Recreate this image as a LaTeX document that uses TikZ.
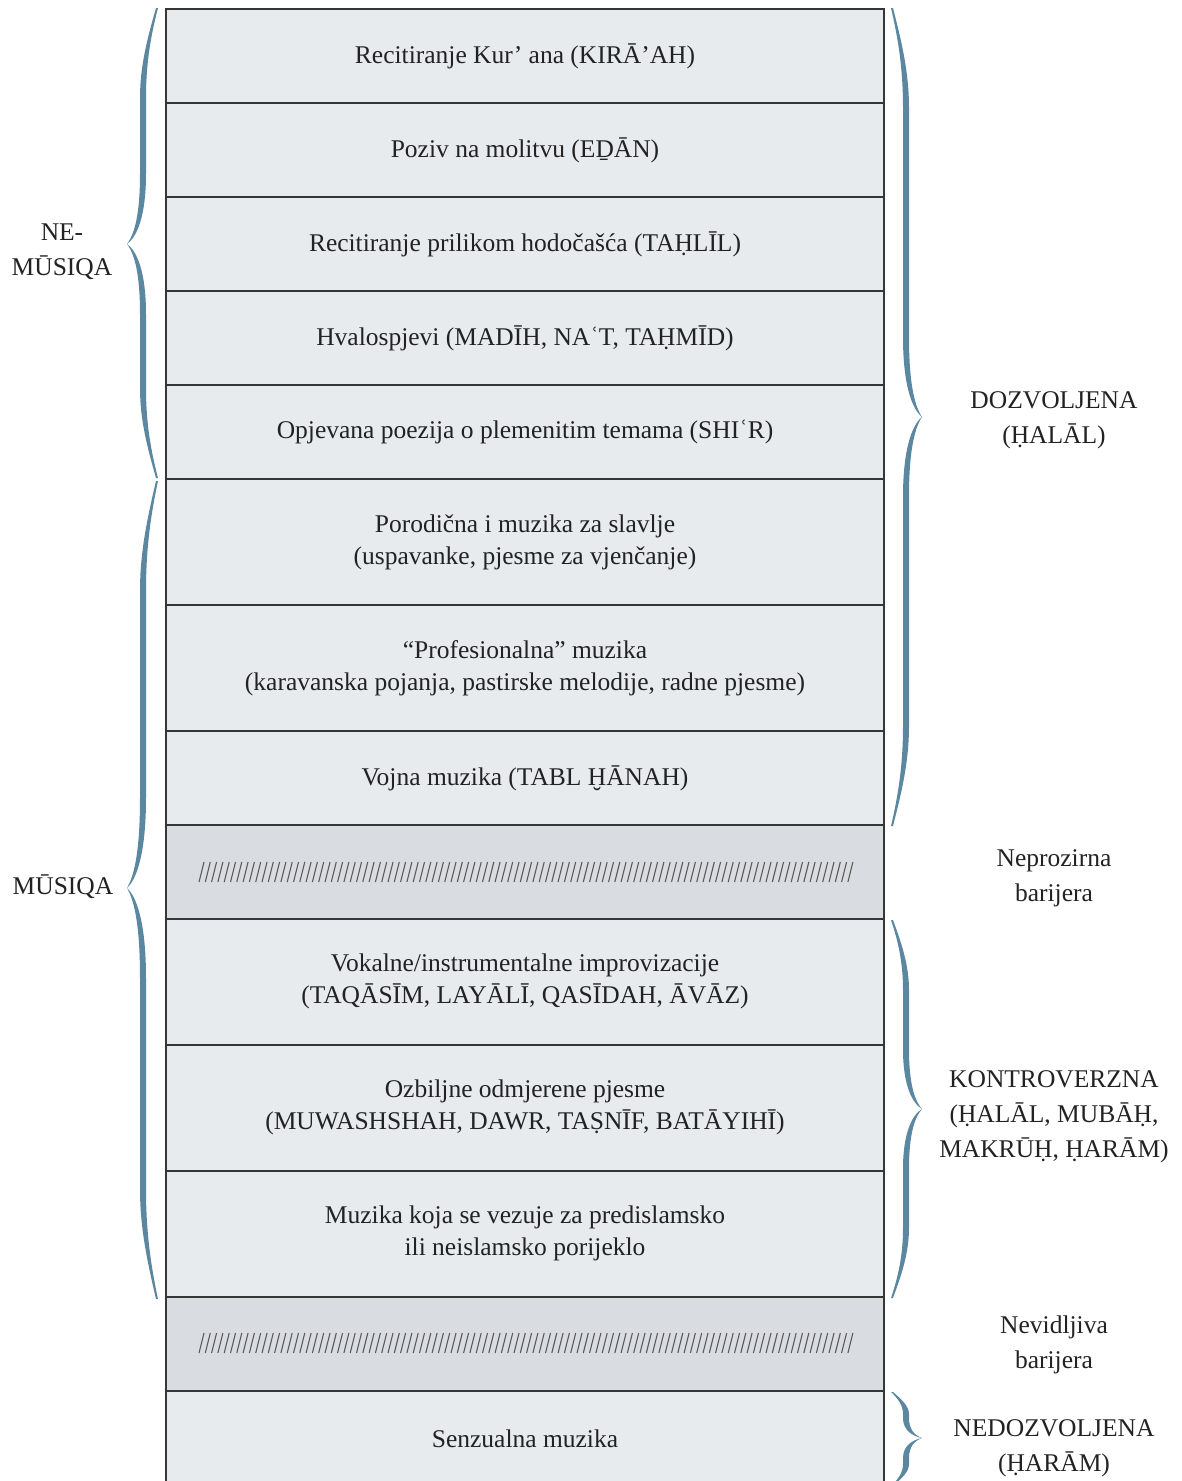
\documentclass[tikz,border=0pt]{standalone}
\usepackage{fontspec}
\setmainfont{Liberation Serif}
\definecolor{rowfill}{HTML}{E8EBEE}
\definecolor{hatchfill}{HTML}{D9DDE2}
\definecolor{edgecol}{HTML}{363636}
\definecolor{bracecol}{HTML}{5B88A0}
\definecolor{txtcol}{HTML}{222222}
\definecolor{slashcol}{HTML}{5A5A5A}
\tikzset{
  rowbox/.style={draw=edgecol, line width=1.7pt, fill=rowfill, minimum width=718pt,
    anchor=north, inner sep=0pt, align=center, text=txtcol,
    font=\fontsize{25.5}{32}\selectfont},
  hatchbox/.style={rowbox, fill=hatchfill},
  sidelabel/.style={align=center, text=txtcol, inner sep=0pt,
    font=\fontsize{25.5}{35}\selectfont},
  slashline/.style={draw=slashcol, line width=1.1pt}
}
% half brace: #1 y of end, #2 y of tip, #3 sign (+1 tip below end, -1 tip above), #4 end-curve length, #5 tip-curve length
\newcommand\halfbr[5]{%
\fill[bracecol] (156,#1) .. controls (147,{#1+(#3)*0.35*#4}) and (140,{#1+(#3)*0.65*#4}) .. (140,{#1+(#3)*#4})
 -- (140,{#2-(#3)*#5})
 .. controls (140,{#2-(#3)*0.45*#5}) and (135,{#2-(#3)*0.15*#5}) .. (127,#2)
 .. controls (137,{#2-(#3)*0.1*#5}) and (146,{#2-(#3)*0.4*#5}) .. (146,{#2-(#3)*#5})
 -- (146,{#1+(#3)*#4})
 .. controls (146,{#1+(#3)*0.6*#4}) and (151,{#1+(#3)*0.3*#4}) .. (158,#1) -- cycle;}
\newcommand\fullbr[5]{\halfbr{#1}{#2}{1}{#4}{#5}\halfbr{#3}{#2}{-1}{#4}{#5}}
\begin{document}
\begin{tikzpicture}[x=1pt,y=-1pt]
\useasboundingbox (0,0) rectangle (1182,1481);
\clip (0,0) rectangle (1182,1481);
% rows
\node[rowbox, minimum height=94pt] (r1) at (525,8) {Recitiranje Kur’ ana (KIRĀ’AH)};
\node[rowbox, minimum height=94pt] (r2) at (525,102) {Poziv na molitvu (EḎĀN)};
\node[rowbox, minimum height=94pt] (r3) at (525,196) {Recitiranje prilikom hodočašća (TAḤLĪL)};
\node[rowbox, minimum height=94pt] (r4) at (525,290) {Hvalospjevi (MADĪH, NAʿT, TAḤMĪD)};
\node[rowbox, minimum height=94pt] (r5) at (525,384) {Opjevana poezija o plemenitim temama (SHIʿR)};
\node[rowbox, minimum height=126pt] (r6) at (525,478) {Porodična i muzika za slavlje\\(uspavanke, pjesme za vjenčanje)};
\node[rowbox, minimum height=126pt] (r7) at (525,604) {“Profesionalna” muzika\\(karavanska pojanja, pastirske melodije, radne pjesme)};
\node[rowbox, minimum height=94pt] (r8) at (525,730) {Vojna muzika (TABL ḪĀNAH)};
\node[hatchbox, minimum height=94pt] (r9) at (525,824) {};
\node[rowbox, minimum height=126pt] (r10) at (525,918) {Vokalne/instrumentalne improvizacije\\(TAQĀSĪM, LAYĀLĪ, QASĪDAH, ĀVĀZ)};
\node[rowbox, minimum height=126pt] (r11) at (525,1044) {Ozbiljne odmjerene pjesme\\(MUWASHSHAH, DAWR, TAṢNĪF, BATĀYIHĪ)};
\node[rowbox, minimum height=126pt] (r12) at (525,1170) {Muzika koja se vezuje za predislamsko\\ili neislamsko porijeklo};
\node[hatchbox, minimum height=94pt] (r13) at (525,1296) {};
\node[rowbox, minimum height=96pt] (r14) at (525,1390) {Senzualna muzika};
% slashes
\foreach \i in {0,...,103} {
  \draw[slashline] ({199+\i*6.3},882) -- ({204+\i*6.3},862);
  \draw[slashline] ({199+\i*6.3},1353) -- ({204+\i*6.3},1333);
}
% left braces
\fullbr{8}{244}{478}{90}{70}
\fullbr{481}{888}{1299}{110}{90}
% right braces (mirrored)
\begin{scope}[xshift=1049pt, xscale=-1]
\fullbr{8}{417}{826}{100}{80}
\fullbr{920}{1109}{1298}{70}{60}
\fullbr{1392}{1438}{1486}{22}{20}
\end{scope}
% side labels
\node[sidelabel] (lnm) at (62,252) {NE-\\MŪSIQA};
\node[sidelabel] (lm) at (63,887) {MŪSIQA};
\node[sidelabel] (rd) at (1054,420) {DOZVOLJENA\\(ḤALĀL)};
\node[sidelabel] (rn) at (1054,878) {Neprozirna\\barijera};
\node[sidelabel] (rk) at (1054,1117) {KONTROVERZNA\\(ḤALĀL, MUBĀḤ,\\MAKRŪḤ, ḤARĀM)};
\node[sidelabel] (rv) at (1054,1345) {Nevidljiva\\barijera};
\node[sidelabel] (rh) at (1054,1448) {NEDOZVOLJENA\\(ḤARĀM)};
\end{tikzpicture}
\end{document}
